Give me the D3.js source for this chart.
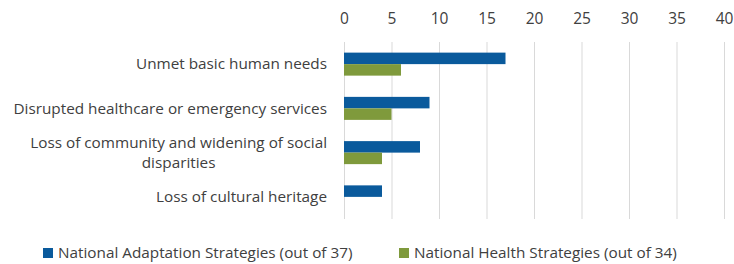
<!DOCTYPE html>
<html>
<head>
<meta charset="utf-8">
<script src="https://cdn.jsdelivr.net/npm/d3@7"></script>
<style>
  body { margin: 0; background: #fff; }
  text { font-family: "Open Sans", sans-serif; fill: #404040; }
</style>
</head>
<body>
<svg width="734" height="264"></svg>
<script>
// chart data
const categories = [
  "Unmet basic human needs",
  "Disrupted healthcare or emergency services",
  "Loss of community and widening of social|disparities",
  "Loss of cultural heritage"
];
const seriesNames = [
  "National Adaptation Strategies (out of 37)",
  "National Health Strategies (out of 34)"
];
const adaptationValues = [17, 9, 8, 4];
const healthValues = [6, 5, 4, 0];
const tickValues = [0, 5, 10, 15, 20, 25, 30, 35, 40];
const colors = ["#0a5a9c", "#7f9a3c"];

const fontSize = 15.3;
const svg = d3.select("svg");

// scales
const x = d3.scaleLinear()
    .domain([0, 40])
    .range([344, 724]);

const y = d3.scaleBand()
    .domain(categories)
    .range([42, 219])
    .paddingInner(0.48)
    .paddingOuter(0.24);

const ySeries = d3.scaleBand()
    .domain([0, 1])
    .range([0, y.bandwidth()]);

// gridlines + tick labels on top
const axis = svg.append("g")
    .attr("transform", "translate(0,42)")
    .call(d3.axisTop(x)
      .tickValues(tickValues)
      .tickSize(-177)
      .tickPadding(18));

axis.select(".domain").remove();
axis.selectAll(".tick line")
    .attr("stroke", "#d9d9d9")
    .attr("stroke-width", 1);
axis.selectAll(".tick text")
    .attr("y", -23)
    .attr("dy", "0.35em")
    .attr("font-size", 15.5)
    .attr("font-family", "Open Sans, sans-serif")
    .attr("fill", "#404040");

// bars
const rows = categories.map((c, i) => ({cat: c, vals: [adaptationValues[i], healthValues[i]]}));

const groups = svg.append("g")
  .selectAll("g")
  .data(rows)
  .enter().append("g")
    .attr("transform", (d) => `translate(0,${y(d.cat)})`);

groups.selectAll("rect")
  .data((d) => d.vals.map((v, j) => ({v, j})))
  .enter().append("rect")
    .attr("x", x(0))
    .attr("y", (d) => ySeries(d.j))
    .attr("width", (d) => x(d.v) - x(0))
    .attr("height", ySeries.bandwidth())
    .attr("fill", (d) => colors[d.j]);

// category labels (wrapped lines centred within a right-aligned block)
const labelRight = 327;
const lineH = 20.6;
const labels = svg.append("g");
categories.forEach((c) => {
  const lines = c.split("|");
  const cy = y(c) + y.bandwidth() / 2;
  const t = labels.append("text")
      .attr("font-size", fontSize)
      .attr("text-anchor", "end");
  const tspans = lines.map((l, k) => t.append("tspan")
      .attr("x", labelRight)
      .attr("y", cy + (k - (lines.length - 1) / 2) * lineH)
      .attr("dy", "0.35em")
      .text(l));
  if (lines.length > 1) {
    const widths = tspans.map((s) => s.node().getComputedTextLength());
    const maxW = d3.max(widths);
    tspans.forEach((s) => s.attr("text-anchor", "middle").attr("x", labelRight - maxW / 2));
  }
});

// legend
const legendX = [43, 399];
const legend = svg.append("g")
  .selectAll("g")
  .data(seriesNames)
  .enter().append("g")
    .attr("transform", (d, i) => `translate(${legendX[i]},248)`);

legend.append("rect")
    .attr("width", 10)
    .attr("height", 10)
    .attr("fill", (d, i) => colors[i]);

legend.append("text")
    .attr("x", 15)
    .attr("y", 5)
    .attr("dy", "0.35em")
    .attr("font-size", fontSize)
    .text((d) => d);
</script>
</body>
</html>
